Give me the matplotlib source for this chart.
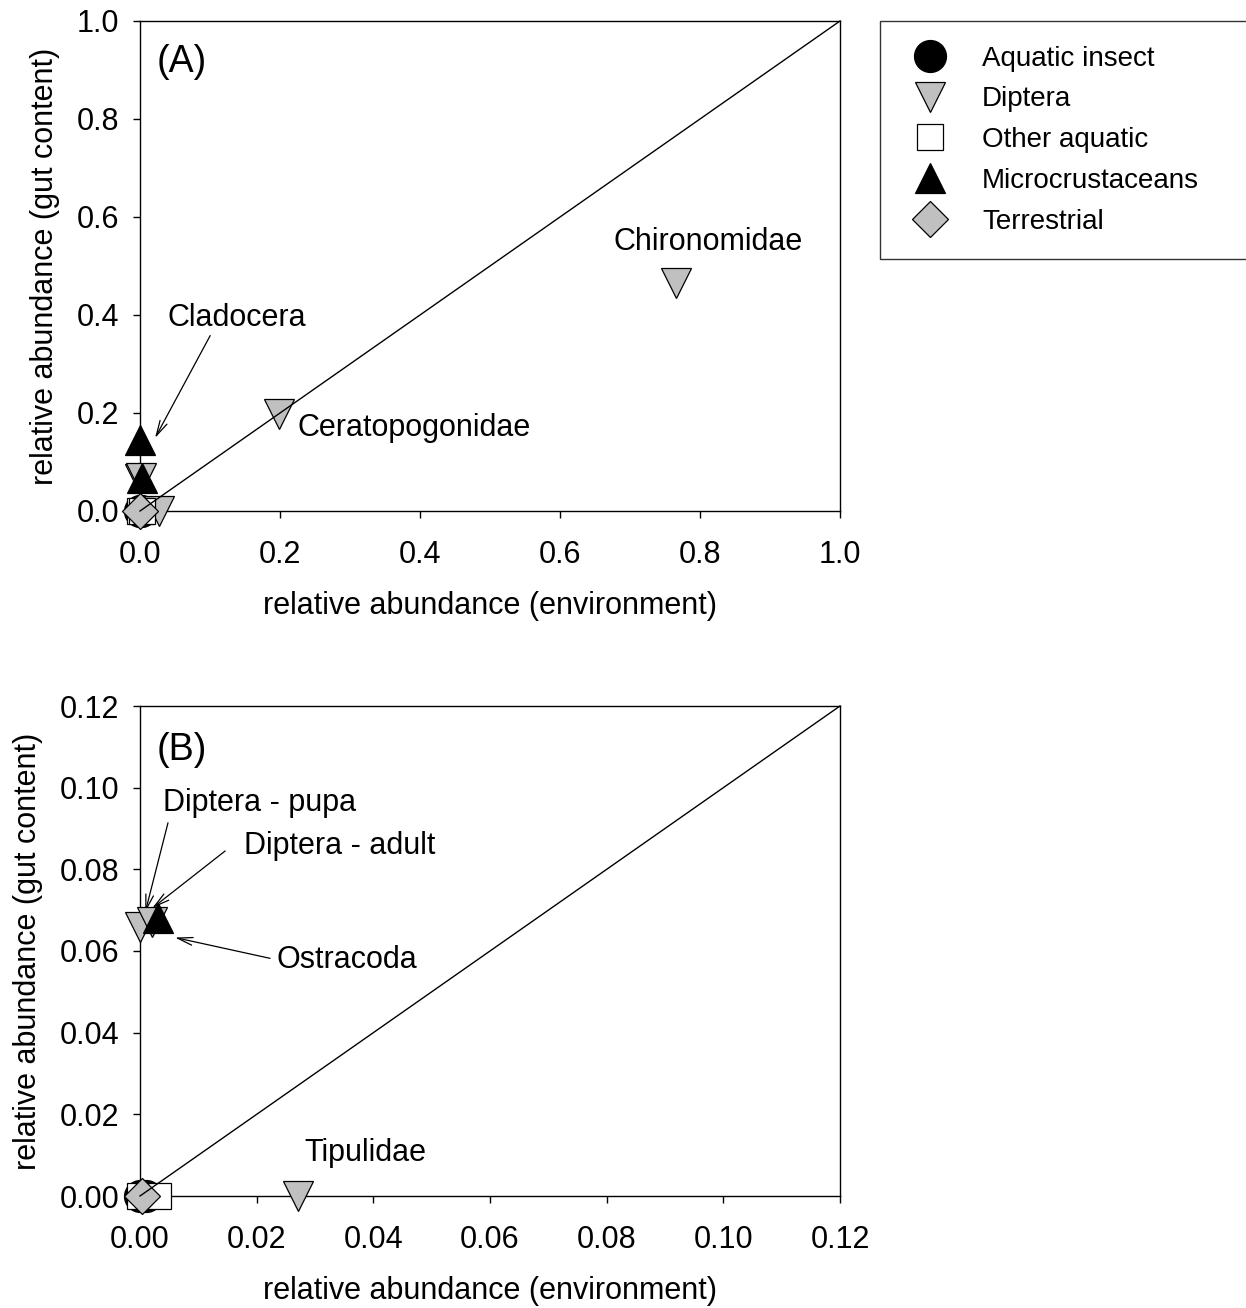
import numpy as np
import matplotlib
matplotlib.use('Agg')
import matplotlib.pyplot as plt
from matplotlib.lines import Line2D

plt.rcParams['font.family'] = ['Liberation Sans', 'DejaVu Sans']

# prey groups: (environment, gut content)
aquatic_env = [0.0, 0.001]
aquatic_gut = [0.0, 0.0]
diptera_env = [0.765, 0.199, 0.0, 0.002, 0.027]
diptera_gut = [0.465, 0.197, 0.066, 0.067, 0.0]
other_env = [0.0, 0.003]
other_gut = [0.0, 0.0]
micro_env = [0.0, 0.003]
micro_gut = [0.145, 0.068]
terr_env = [0.0003]
terr_gut = [0.0]

gray = '#c0c0c0'
styles = [
    ('Aquatic insect', aquatic_env, aquatic_gut, 'o', 'black', 23),
    ('Diptera', diptera_env, diptera_gut, 'v', gray, 21),
    ('Other aquatic', other_env, other_gut, 's', 'white', 19),
    ('Microcrustaceans', micro_env, micro_gut, '^', 'black', 21.5),
    ('Terrestrial', terr_env, terr_gut, 'D', gray, 18),
]

fig = plt.figure(figsize=(12.46, 13.08), dpi=100)
W, H = 1246, 1308
axA = fig.add_axes([140 / W, 1 - 511 / H, 700 / W, 490 / H])
axB = fig.add_axes([140 / W, 1 - 1196 / H, 700 / W, 490 / H])

fs = 22
arrow = dict(arrowstyle='->,head_length=1.1,head_width=0.28', color='black', lw=0.9,
             shrinkA=0, shrinkB=0)


def draw(ax, lim, ticks, fmt):
    # squares and circles first, diamond on top of them
    order = [0, 2, 1, 3, 4]
    for i in order:
        lab, xs, ys, m, fc, ms = styles[i]
        xs = np.asarray(xs)
        ys = np.asarray(ys)
        keep = (xs <= lim * 1.01) & (ys <= lim * 1.01)
        ax.plot(xs[keep], ys[keep], linestyle='none', marker=m, markerfacecolor=fc,
                markeredgecolor='black', markeredgewidth=0.9, markersize=ms,
                clip_on=False, zorder=3 + i * 0.1)
    ax.plot([0, lim], [0, lim], color='black', lw=1.0, zorder=5, clip_on=False)
    ax.set_xlim(0, lim)
    ax.set_ylim(0, lim)
    ax.set_xticks(ticks)
    ax.set_yticks(ticks)
    ax.set_xticklabels([fmt.format(t) for t in ticks])
    ax.set_yticklabels([fmt.format(t) for t in ticks])
    ax.tick_params(direction='out', length=5, width=1, labelsize=fs, pad=10)
    ax.tick_params(axis='x', pad=16)
    for s in ax.spines.values():
        s.set_linewidth(1.0)
    ax.set_xlabel('relative abundance (environment)', fontsize=fs, labelpad=15)
    ax.set_ylabel('relative abundance (gut content)', fontsize=fs, labelpad=12)


draw(axA, 1.0, np.arange(0, 1.01, 0.2), '{:.1f}')
draw(axB, 0.12, np.arange(0, 0.121, 0.02), '{:.2f}')

axA.text(0.024, 1 - 41 / 490, '(A)', transform=axA.transAxes, fontsize=27, va='center')
axB.text(0.024, 1 - 44 / 490, '(B)', transform=axB.transAxes, fontsize=27, va='center')

axA.text(0.811, 0.55, 'Chironomidae', fontsize=fs, ha='center', va='center')
axA.text(0.3914, 0.169, 'Ceratopogonidae', fontsize=fs, ha='center', va='center')
axA.text(0.1386, 0.393, 'Cladocera', fontsize=fs, ha='center', va='center')
axA.annotate('', xy=(0.0215, 0.149), xytext=(0.1003, 0.358), arrowprops=arrow)

axB.text(0.0205, 0.0963, 'Diptera - pupa', fontsize=fs, ha='center', va='center')
axB.text(0.0342, 0.0858, 'Diptera - adult', fontsize=fs, ha='center', va='center')
axB.text(0.0354, 0.0579, 'Ostracoda', fontsize=fs, ha='center', va='center')
axB.text(0.0387, 0.0105, 'Tipulidae', fontsize=fs, ha='center', va='center')
axB.annotate('', xy=(0.0009, 0.0695), xytext=(0.0048, 0.0914), arrowprops=arrow)
axB.annotate('', xy=(0.0021, 0.0705), xytext=(0.0146, 0.0845), arrowprops=arrow)
axB.annotate('', xy=(0.006, 0.0633), xytext=(0.0223, 0.0582), arrowprops=arrow)

handles = [Line2D([], [], linestyle='none', marker=m, markerfacecolor=fc,
                  markeredgecolor='black', markeredgewidth=0.9, markersize=ms)
           for lab, xs, ys, m, fc, ms in styles]
labels = [s[0] for s in styles]
leg = fig.legend(handles, labels, loc='upper left',
                 bbox_to_anchor=(880 / W, 1 - 21 / H - 0.01, 380 / W, 0.01), mode='expand',
                 fontsize=20, frameon=True, fancybox=False, edgecolor='black',
                 borderpad=0.89, labelspacing=0.53, handlelength=1.82,
                 handletextpad=0.96, borderaxespad=0, numpoints=1)
leg.get_frame().set_linewidth(1.0)

fig.savefig('out.png', dpi=100)
